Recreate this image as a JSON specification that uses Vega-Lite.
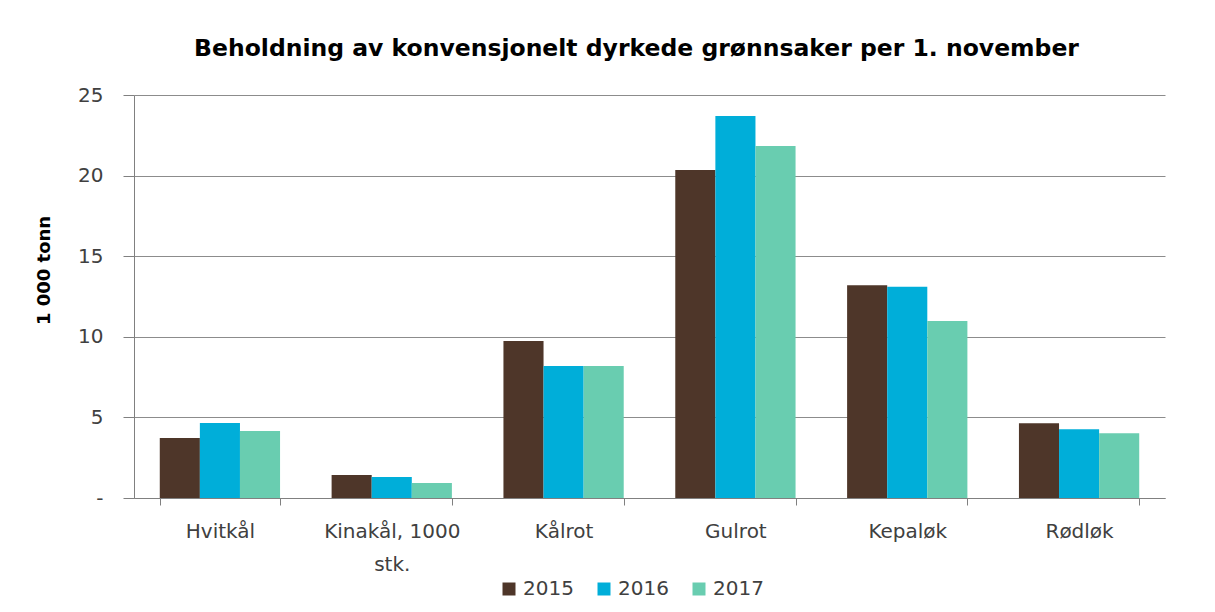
{
  "$schema": "https://vega.github.io/schema/vega-lite/v6.json",
  "width": 1031,
  "height": 403,
  "autosize": {"type": "none"},
  "padding": {"left": 134, "top": 95, "right": 50, "bottom": 114},
  "background": "white",
  "title": {
    "text": "Beholdning av konvensjonelt dyrkede grønnsaker per 1. november",
    "font": "DejaVu Sans",
    "fontSize": 23.5,
    "fontWeight": "bold",
    "color": "#000000",
    "anchor": "middle",
    "offset": 25,
    "dx": -13
  },
  "data": {
    "values": [
      {"kategori": "Hvitkål", "år": "2015", "verdi": 3.72},
      {"kategori": "Hvitkål", "år": "2016", "verdi": 4.65},
      {"kategori": "Hvitkål", "år": "2017", "verdi": 4.16},
      {"kategori": "Kinakål, 1000 stk.", "år": "2015", "verdi": 1.43},
      {"kategori": "Kinakål, 1000 stk.", "år": "2016", "verdi": 1.3},
      {"kategori": "Kinakål, 1000 stk.", "år": "2017", "verdi": 0.93},
      {"kategori": "Kålrot", "år": "2015", "verdi": 9.74},
      {"kategori": "Kålrot", "år": "2016", "verdi": 8.19},
      {"kategori": "Kålrot", "år": "2017", "verdi": 8.19},
      {"kategori": "Gulrot", "år": "2015", "verdi": 20.35},
      {"kategori": "Gulrot", "år": "2016", "verdi": 23.7},
      {"kategori": "Gulrot", "år": "2017", "verdi": 21.84},
      {"kategori": "Kepaløk", "år": "2015", "verdi": 13.2},
      {"kategori": "Kepaløk", "år": "2016", "verdi": 13.1},
      {"kategori": "Kepaløk", "år": "2017", "verdi": 10.98},
      {"kategori": "Rødløk", "år": "2015", "verdi": 4.63},
      {"kategori": "Rødløk", "år": "2016", "verdi": 4.26},
      {"kategori": "Rødløk", "år": "2017", "verdi": 4.01}
    ]
  },
  "mark": {"type": "bar"},
  "encoding": {
    "x": {
      "field": "kategori",
      "type": "nominal",
      "sort": null,
      "scale": {"paddingInner": 0.3, "paddingOuter": 0.15},
      "axis": {
        "title": null,
        "labelAngle": 0,
        "labelFont": "DejaVu Sans",
        "labelFontSize": 20,
        "labelColor": "#404040",
        "labelPadding": 16,
        "labelLineHeight": 33,
        "labelExpr": "datum.label == 'Kinakål, 1000 stk.' ? ['Kinakål, 1000', 'stk.'] : datum.label",
        "tickBand": "extent",
        "tickSize": 7,
        "tickColor": "#808080",
        "domainColor": "#808080",
        "grid": false
      }
    },
    "xOffset": {"field": "år", "type": "nominal"},
    "y": {
      "field": "verdi",
      "type": "quantitative",
      "scale": {"domain": [0, 25], "nice": false},
      "axis": {
        "title": "1 000 tonn",
        "titleFont": "DejaVu Sans",
        "titleFontSize": 18,
        "titleFontWeight": "bold",
        "titleColor": "#000000",
        "titleY": 175,
        "titlePadding": 24,
        "values": [0, 5, 10, 15, 20, 25],
        "labelExpr": "datum.value == 0 ? '-' : datum.label",
        "labelFont": "DejaVu Sans",
        "labelFontSize": 20,
        "labelColor": "#404040",
        "labelPadding": 20,
        "tickSize": 11,
        "tickColor": "#808080",
        "domainColor": "#808080",
        "gridColor": "#8c8c8c",
        "gridWidth": 1
      }
    },
    "color": {
      "field": "år",
      "type": "nominal",
      "scale": {"domain": ["2015", "2016", "2017"], "range": ["#4e3629", "#00aed9", "#69cdb0"]},
      "legend": {
        "title": null,
        "orient": "none",
        "legendX": 365,
        "legendY": 484,
        "direction": "horizontal",
        "symbolType": "square",
        "symbolSize": 169,
        "symbolStrokeWidth": 0,
        "labelFont": "DejaVu Sans",
        "labelFontSize": 20,
        "labelColor": "#404040",
        "labelOffset": 4,
        "columnPadding": 20
      }
    }
  },
  "config": {
    "view": {"stroke": null}
  }
}
